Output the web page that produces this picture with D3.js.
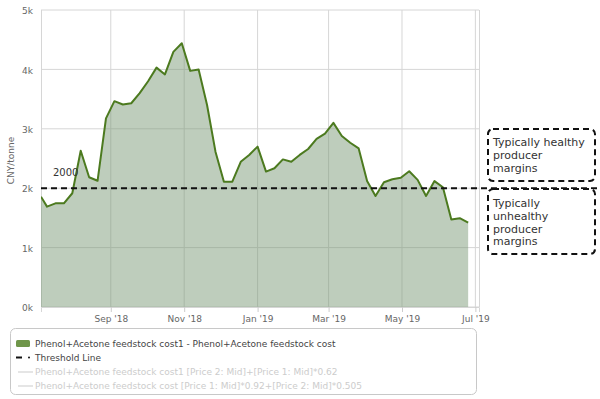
<!DOCTYPE html>
<html>
<head>
<meta charset="utf-8">
<script src="https://cdn.jsdelivr.net/npm/d3@7"></script>
<style>
  body { margin: 0; background: #fff; }
  svg { display: block; font-family: "DejaVu Sans", sans-serif; }
</style>
</head>
<body>
<div id="chart"></div>
<script>
// Weekly feedstock cost, CNY/tonne
const dates = [
  '2018-07-05', '2018-07-10', '2018-07-17', '2018-07-24', '2018-07-31',
  '2018-08-07', '2018-08-14', '2018-08-21', '2018-08-28',
  '2018-09-04', '2018-09-11', '2018-09-18', '2018-09-25',
  '2018-10-02', '2018-10-09', '2018-10-16', '2018-10-23', '2018-10-30',
  '2018-11-06', '2018-11-13', '2018-11-20', '2018-11-27',
  '2018-12-04', '2018-12-11', '2018-12-18', '2018-12-25',
  '2019-01-01', '2019-01-08', '2019-01-15', '2019-01-22', '2019-01-29',
  '2019-02-05', '2019-02-12', '2019-02-19', '2019-02-26',
  '2019-03-05', '2019-03-12', '2019-03-19', '2019-03-26',
  '2019-04-02', '2019-04-09', '2019-04-16', '2019-04-23', '2019-04-30',
  '2019-05-07', '2019-05-14', '2019-05-21', '2019-05-28',
  '2019-06-04', '2019-06-11', '2019-06-18', '2019-06-25'
];
const costValues = [
  1857, 1690, 1745, 1745, 1915,
  2630, 2185, 2125, 3175,
  3465, 3410, 3430, 3600,
  3800, 4030, 3915, 4295, 4440,
  3975, 4000, 3400, 2615,
  2110, 2110, 2445, 2560,
  2700, 2280, 2335, 2485, 2445,
  2560, 2660, 2830, 2920,
  3100, 2880, 2765, 2670,
  2120, 1870, 2100, 2150, 2175,
  2285, 2140, 1870, 2120,
  2015, 1475, 1495, 1420
];
const threshold = 2000;
const yTicks = [0, 1000, 2000, 3000, 4000, 5000];
const xTickDates = ['2018-09-01', '2018-11-01', '2019-01-01', '2019-03-01', '2019-05-01', '2019-07-01'];
const legendLabels = [
  'Phenol+Acetone feedstock cost1 - Phenol+Acetone feedstock cost',
  'Threshold Line',
  'Phenol+Acetone feedstock cost1 [Price 2: Mid]+[Price 1: Mid]*0.62',
  'Phenol+Acetone feedstock cost [Price 1: Mid]*0.92+[Price 2: Mid]*0.505'
];
const noteHealthy = ['Typically healthy', 'producer', 'margins'];
const noteUnhealthy = ['Typically', 'unhealthy', 'producer', 'margins'];

(function() {
  const W = 600, H = 399;
  const plot = { left: 41, right: 479, top: 10, bottom: 307 };

  const parse = d3.timeParse('%Y-%m-%d');
  const data = dates.map((d, i) => ({ date: parse(d), value: costValues[i] }));

  const svg = d3.select('#chart').append('svg')
    .attr('width', W)
    .attr('height', H);

  const x = d3.scaleTime()
    .domain([parse('2018-07-05'), parse('2019-07-04')])
    .range([plot.left, plot.right]);

  const y = d3.scaleLinear()
    .domain([0, 5000])
    .range([plot.bottom, plot.top]);

  svg.append('clipPath').attr('id', 'plot-clip')
    .append('rect')
    .attr('x', plot.left).attr('y', plot.top)
    .attr('width', plot.right - plot.left).attr('height', plot.bottom - plot.top);

  // grid
  svg.append('g').selectAll('line')
    .data(yTicks)
    .enter().append('line')
    .attr('x1', plot.left).attr('x2', plot.right)
    .attr('y1', d => y(d)).attr('y2', d => y(d))
    .attr('stroke', '#d6d6d6');

  svg.append('g').selectAll('line')
    .data(xTickDates.map(parse))
    .enter().append('line')
    .attr('x1', d => x(d)).attr('x2', d => x(d))
    .attr('y1', plot.top).attr('y2', plot.bottom)
    .attr('stroke', '#d6d6d6');

  svg.append('line')
    .attr('x1', plot.left + 0.5).attr('x2', plot.left + 0.5)
    .attr('y1', plot.top).attr('y2', plot.bottom)
    .attr('stroke', '#d6d6d6');
  svg.append('line')
    .attr('x1', plot.right + 0.5).attr('x2', plot.right + 0.5)
    .attr('y1', plot.top).attr('y2', plot.bottom)
    .attr('stroke', '#d6d6d6');

  // area + line
  const g = svg.append('g').attr('clip-path', 'url(#plot-clip)');

  g.append('path')
    .datum(data)
    .attr('d', d3.area().x(d => x(d.date)).y0(y(0)).y1(d => y(d.value)))
    .attr('fill', 'rgb(120,150,115)')
    .attr('fill-opacity', 0.48);

  g.append('path')
    .datum(data)
    .attr('d', d3.line().x(d => x(d.date)).y(d => y(d.value)))
    .attr('fill', 'none')
    .attr('stroke', '#4c7a1f')
    .attr('stroke-width', 2)
    .attr('stroke-linejoin', 'round');

  // axes
  const yAxis = svg.append('g')
    .attr('transform', `translate(${plot.left - 5}, 0)`)
    .call(d3.axisLeft(y).tickValues(yTicks).tickSize(0).tickFormat(d => (d / 1000) + 'k'));
  yAxis.select('.domain').remove();
  yAxis.selectAll('text')
    .attr('dy', '0.4em')
    .style('font-size', '9px')
    .style('font-family', '"DejaVu Sans", sans-serif')
    .attr('fill', '#666');

  const xAxis = svg.append('g')
    .attr('transform', `translate(0, ${plot.bottom})`)
    .call(d3.axisBottom(x).tickValues(xTickDates.map(parse)).tickSize(5).tickPadding(4)
      .tickFormat(d3.timeFormat("%b '%y")));
  xAxis.select('.domain').attr('stroke', '#d6d6d6');
  xAxis.selectAll('line').attr('stroke', '#ccc');
  xAxis.selectAll('text')
    .style('font-size', '9px')
    .style('font-family', '"DejaVu Sans", sans-serif')
    .attr('fill', '#666');

  svg.append('text')
    .attr('transform', `translate(14, ${(plot.top + plot.bottom) / 2 + 2}) rotate(-90)`)
    .attr('text-anchor', 'middle')
    .style('font-size', '9px')
    .attr('fill', '#666')
    .text('CNY/tonne');

  // threshold
  svg.append('line')
    .attr('x1', plot.left).attr('x2', W)
    .attr('y1', y(threshold)).attr('y2', y(threshold))
    .attr('stroke', '#111')
    .attr('stroke-width', 2)
    .attr('stroke-dasharray', '6,4');

  svg.append('text')
    .attr('x', plot.left + 12)
    .attr('y', y(threshold) - 12)
    .style('font-size', '10px')
    .attr('fill', '#333')
    .text(threshold);

  // annotation boxes
  function noteBox(top, height, lines, firstY) {
    svg.append('rect')
      .attr('x', 488).attr('y', top)
      .attr('width', 107).attr('height', height)
      .attr('rx', 5)
      .attr('fill', '#fff')
      .attr('stroke', '#111')
      .attr('stroke-width', 2)
      .attr('stroke-dasharray', '6,4');
    svg.append('g').selectAll('text')
      .data(lines)
      .enter().append('text')
      .attr('x', 493)
      .attr('y', (d, i) => firstY + i * 12.8)
      .style('font-size', '11px')
      .attr('fill', '#333')
      .text(d => d);
  }
  noteBox(129, 52, noteHealthy, 146);
  noteBox(189, 65, noteUnhealthy, 207);

  // legend
  const legend = svg.append('g');
  legend.append('rect')
    .attr('x', 10.5).attr('y', 328.5)
    .attr('width', 466).attr('height', 66)
    .attr('rx', 5)
    .attr('fill', '#fff')
    .attr('stroke', '#c8c8c8');

  const rowY = [343.5, 357.5, 372, 386];
  const items = legend.selectAll('.legend-item')
    .data(legendLabels)
    .enter().append('g')
    .attr('class', 'legend-item')
    .attr('transform', (d, i) => `translate(0, ${rowY[i]})`);

  items.append('text')
    .attr('x', 35)
    .attr('dy', '0.35em')
    .style('font-size', '9px')
    .attr('fill', (d, i) => i < 2 ? '#444' : '#ccc')
    .text(d => d);

  legend.append('rect')
    .attr('x', 16).attr('y', rowY[0] - 3.5)
    .attr('width', 14).attr('height', 7)
    .attr('rx', 1.5)
    .attr('fill', '#6f964a');

  legend.append('line')
    .attr('x1', 16).attr('x2', 22)
    .attr('y1', rowY[1]).attr('y2', rowY[1])
    .attr('stroke', '#111').attr('stroke-width', 2);
  legend.append('circle')
    .attr('cx', 29).attr('cy', rowY[1])
    .attr('r', 1)
    .attr('fill', '#111');

  [rowY[2], rowY[3]].forEach(ry => {
    legend.append('line')
      .attr('x1', 18).attr('x2', 33)
      .attr('y1', ry).attr('y2', ry)
      .attr('stroke', '#ddd').attr('stroke-width', 1.5);
  });
})();
</script>
</body>
</html>
